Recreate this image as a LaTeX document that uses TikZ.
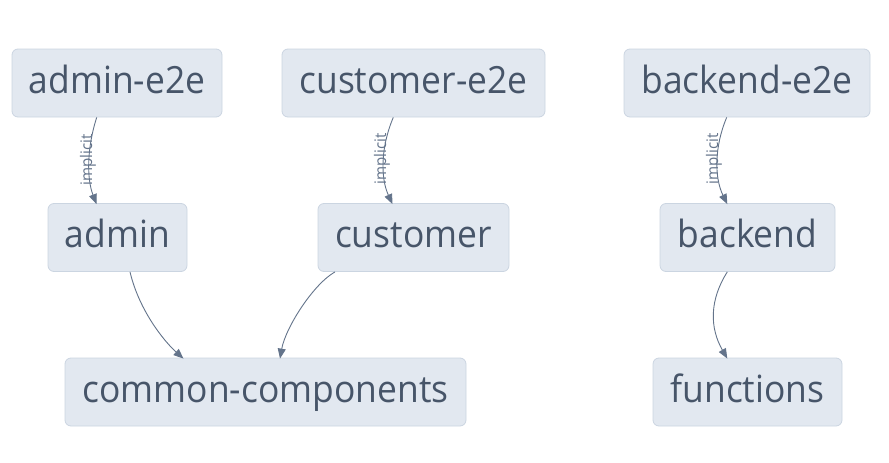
\documentclass[tikz,border=0pt]{standalone}
\usepackage{fontspec}
\setmainfont[FakeStretch=0.945]{Open Sans}
\usetikzlibrary{arrows.meta}
\definecolor{boxfill}{HTML}{E2E8F0}
\definecolor{boxline}{HTML}{CBD5E1}
\definecolor{boxtext}{HTML}{475569}
\definecolor{edgecol}{HTML}{64748B}
\begin{document}
\begin{tikzpicture}[x=1pt,y=-1pt,
  pkg/.style={draw=boxline, fill=boxfill, line width=0.8pt, rounded corners=6pt,
    text=boxtext, font=\fontsize{37.5}{40}\selectfont, inner sep=0pt,
    text height=27pt, text depth=6.6pt, minimum height=68pt},
  dep/.style={draw=edgecol, line width=0.9pt, -{Triangle[length=10pt,width=8pt]}},
  lbl/.style={text=edgecol, font=\fontsize{16}{17}\selectfont, rotate=90, inner sep=0pt, fill=none}]
\useasboundingbox (0,0) rectangle (889,463);
\node[pkg, minimum width=210pt] (ae2e) at (117,83) {admin-e2e};
\node[pkg, minimum width=263pt] (ce2e) at (413.5,83) {customer-e2e};
\node[pkg, minimum width=246pt] (be2e) at (747,83) {backend-e2e};
\node[pkg, minimum width=139pt] (admin) at (117.5,237.5) {admin};
\node[pkg, minimum width=191pt] (cust) at (413.5,237.5) {customer};
\node[pkg, minimum width=175pt] (back) at (747.5,237.5) {backend};
\node[pkg, minimum width=401pt] (common) at (265.5,392) {common-components};
\node[pkg, minimum width=189pt] (func) at (747.5,392) {functions};
% implicit edges
\draw[dep] ([xshift=-20.3pt]ae2e.south) .. controls ([xshift=-30pt,yshift=-30pt]ae2e.south) and ([xshift=-31pt,yshift=25pt]admin.north) .. ([xshift=-21pt,yshift=-1pt]admin.north);
\node[lbl] (l1) at (88,160) {implicit};
\draw[dep] ([xshift=-20.2pt]ce2e.south) .. controls ([xshift=-33pt,yshift=-30pt]ce2e.south) and ([xshift=-33pt,yshift=25pt]cust.north) .. ([xshift=-21pt,yshift=-1pt]cust.north);
\node[lbl] (l2) at (382,159) {implicit};
\draw[dep] ([xshift=-20.3pt]be2e.south) .. controls ([xshift=-33pt,yshift=-30pt]be2e.south) and ([xshift=-33pt,yshift=25pt]back.north) .. ([xshift=-20.2pt,yshift=-1pt]back.north);
\node[lbl] (l3) at (714,159) {implicit};
% other edges
\draw[dep] ([xshift=-20.2pt]back.south) .. controls ([xshift=-38pt,yshift=-28pt]back.south) and ([xshift=-38pt,yshift=30pt]func.north) .. ([xshift=-20.2pt,yshift=-1pt]func.north);
\draw[dep] ([xshift=12.5pt]admin.south) .. controls ([xshift=22pt,yshift=-40pt]admin.south) and ([xshift=-100pt,yshift=15pt]common.north) .. ([xshift=-82pt,yshift=-1pt]common.north);
\draw[dep] ([xshift=-78.5pt]cust.south) .. controls ([xshift=-100pt,yshift=-12pt]cust.south) and ([xshift=20pt,yshift=30pt]common.north) .. ([xshift=14.5pt,yshift=-1pt]common.north);
\end{tikzpicture}
\end{document}
